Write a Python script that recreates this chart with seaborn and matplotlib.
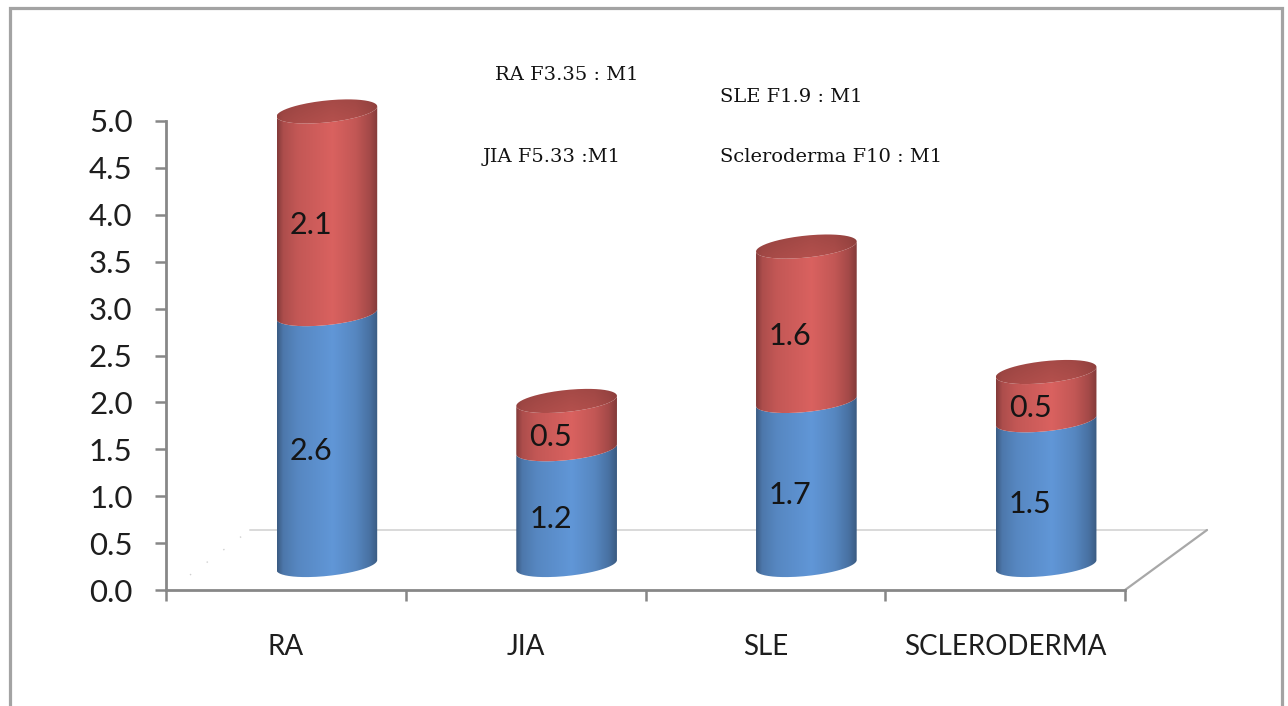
import numpy as np
import pandas as pd
import matplotlib
matplotlib.use("Agg")
import matplotlib.pyplot as plt
import seaborn as sns
from matplotlib.path import Path
from matplotlib.patches import PathPatch
from matplotlib.lines import Line2D
from matplotlib.colors import to_rgb

# ---- data -------------------------------------------------------------
categories = ["RA", "JIA", "SLE", "SCLERODERMA"]
lower_values = [2.6, 1.2, 1.7, 1.5]
upper_values = [2.1, 0.5, 1.6, 0.5]
y_tick_values = [0.0, 0.5, 1.0, 1.5, 2.0, 2.5, 3.0, 3.5, 4.0, 4.5, 5.0]
ratio_notes = ["RA F3.35 : M1", "SLE F1.9 : M1", "JIA F5.33 :M1", "Scleroderma F10 : M1"]

# ---- canvas -----------------------------------------------------------
W, H = 1288, 706
sns.set_theme(style="white")
plt.rcParams["font.family"] = ["Lato", "DejaVu Sans"]

fig = plt.figure(figsize=(W / 100, H / 100), dpi=100)
fig.patch.set_facecolor("white")

GREY = "#878787"
BLUE = "#5B8ECB"
RED = "#CD5C5A"
CAP = "#A84B48"


def axes_px(left, top, right, bottom):
    return fig.add_axes([left / W, 1 - bottom / H, (right - left) / W, (bottom - top) / H])


def fig_line(xs, ys, **kw):
    fig.add_artist(Line2D([x / W for x in xs], [1 - y / H for y in ys],
                          transform=fig.transFigure, **kw))


# outer frame
fig_line([10, 10, 1282, 1282], [720, 8, 8, 720], color="#A3A3A3", lw=2.3,
         solid_joinstyle="miter", zorder=5)

# floor of the 3-D box (behind the axes)
fig_line([250, 1207], [530, 530], color="#D9D9D9", lw=1.4, zorder=-1)
fig_line([1125, 1207], [590, 530], color="#A8A8A8", lw=1.6, zorder=-1)
fig_line([190, 250], [575, 530], color="#D0D0D0", lw=1.0, ls=(0, (1, 14)), zorder=-1)

# ---- value axis / category axis (front plane) -------------------------
ax = axes_px(166, 121, 1125, 590)
ax.set_facecolor("none")
ax.set_xlim(-0.5, 3.5)
ax.set_ylim(0, 5)
for side in ("top", "right"):
    ax.spines[side].set_visible(False)
for side in ("left", "bottom"):
    ax.spines[side].set_color(GREY)
    ax.spines[side].set_linewidth(2.0)
ax.set_yticks(y_tick_values)
ax.set_yticklabels([f"{v:.1f}" for v in y_tick_values])
ax.tick_params(axis="y", direction="out", length=8, width=1.8, color=GREY,
               pad=16, labelsize=22.5, labelcolor="#1E1E1E", left=True)
ax.set_xticks([-0.5, 0.5, 1.5, 2.5, 3.5])
ax.set_xticklabels([])
ax.set_xticks(range(len(categories)), minor=True)
ax.set_xticklabels(categories, minor=True)
ax.tick_params(axis="x", which="major", direction="out", length=8, width=1.8,
               color=GREY, bottom=True)
ax.tick_params(axis="x", which="minor", length=0, pad=32, labelsize=20,
               labelcolor="#1E1E1E")
ax.grid(False)

# ---- cylinders (mid-depth plane) --------------------------------------
Y0, SCALE = 565, 96.5
YMIN, YMAX = -0.5, 5.3
bax = axes_px(207, Y0 - YMAX * SCALE, 1166, Y0 - YMIN * SCALE)
bax.set_facecolor("none")
bax.axis("off")

df = pd.DataFrame({
    "category": categories,
    "lower": lower_values,
    "total": np.add(lower_values, upper_values),
})
sns.barplot(data=df, x="category", y="total", ax=bax, width=0.42,
            color=RED, errorbar=None)
sns.barplot(data=df, x="category", y="lower", ax=bax, width=0.42,
            color=BLUE, errorbar=None)
bax.set_xlim(-0.5, 3.5)
bax.set_ylim(YMIN, YMAX)

n = len(categories)
total_bars = bax.patches[:n]
lower_bars = bax.patches[n:2 * n]

B = 11.0 / SCALE   # vertical half-axis of the elliptical caps
K = 5.0 / SCALE    # tilt of the caps

prof_u = [0.0, 0.06, 0.2, 0.55, 0.78, 0.92, 1.0]
prof_f = [0.64, 0.84, 0.95, 1.06, 0.95, 0.80, 0.64]


def shaded_row(color, npts=200):
    u = np.linspace(0, 1, npts)
    f = np.interp(u, prof_u, prof_f)
    rgb = np.clip(np.outer(f, to_rgb(color)), 0, 1)
    return rgb[np.newaxis, :, :]


def ellipse_pts(cx, a, y, t):
    return cx + a * np.cos(t), y + B * np.sin(t) + K * np.cos(t)


def draw_segment(cx, a, y_lo, y_hi, color):
    t = np.linspace(np.pi, 2 * np.pi, 80)
    xt, yt = ellipse_pts(cx, a, y_hi, t)
    xb, yb = ellipse_pts(cx, a, y_lo, t[::-1])
    verts = np.column_stack([np.r_[xt, xb], np.r_[yt, yb]])
    shape = PathPatch(Path(verts, closed=False), facecolor="none",
                      edgecolor="none", transform=bax.transData)
    bax.add_patch(shape)
    im = bax.imshow(shaded_row(color), extent=[cx - a, cx + a, y_lo - B - K, y_hi + B + K],
                    aspect="auto", interpolation="bilinear", zorder=2)
    im.set_clip_path(shape)


def draw_cap(cx, a, y):
    t = np.linspace(0, 2 * np.pi, 160)
    xe, ye = ellipse_pts(cx, a, y, t)
    shape = PathPatch(Path(np.column_stack([xe, ye])), facecolor="none",
                      edgecolor="none", transform=bax.transData)
    bax.add_patch(shape)
    u = np.linspace(0, 1, 120)
    f = np.interp(u, prof_u, [0.86, 0.93, 0.97, 1.03, 1.0, 0.93, 0.86])
    v = np.linspace(0.94, 1.06, 40)[:, None, None]
    img = np.clip(v * np.outer(f, to_rgb(CAP))[None, :, :], 0, 1)
    im = bax.imshow(img, extent=[cx - a, cx + a, y - B - K, y + B + K], origin="upper",
                    aspect="auto", interpolation="bilinear", zorder=3)
    im.set_clip_path(shape)


for i in range(n):
    lp, tp = lower_bars[i], total_bars[i]
    a = lp.get_width() / 2
    cx = lp.get_x() + a
    y_mid = lp.get_y() + lp.get_height()
    y_top = tp.get_y() + tp.get_height()
    draw_segment(cx, a, lp.get_y(), y_mid, BLUE)
    draw_segment(cx, a, y_mid, y_top, RED)
    draw_cap(cx, a, y_top)
    for p in (lp, tp):
        p.set_visible(False)
    # value labels
    for val, ylo, yhi in ((lower_values[i], lp.get_y(), y_mid),
                          (upper_values[i], y_mid, y_top)):
        bax.annotate(f"{val:.1f}", xy=(cx, (ylo + yhi) / 2), xytext=(-11.5, -8.5),
                     textcoords="offset points", ha="center", va="center",
                     fontsize=22, color="#151515", zorder=5)

bax.set_xlim(-0.5, 3.5)
bax.set_ylim(YMIN, YMAX)

# ---- ratio notes ------------------------------------------------------
note_pos = [(495, 75), (720, 97), (483, 157), (720, 157)]
for txt, (px, py) in zip(ratio_notes, note_pos):
    fig.text(px / W, 1 - py / H, txt, ha="left", va="center", fontsize=14,
             family=["DejaVu Serif"], color="#111111")

fig.savefig("out.png", dpi=100, facecolor="white")
